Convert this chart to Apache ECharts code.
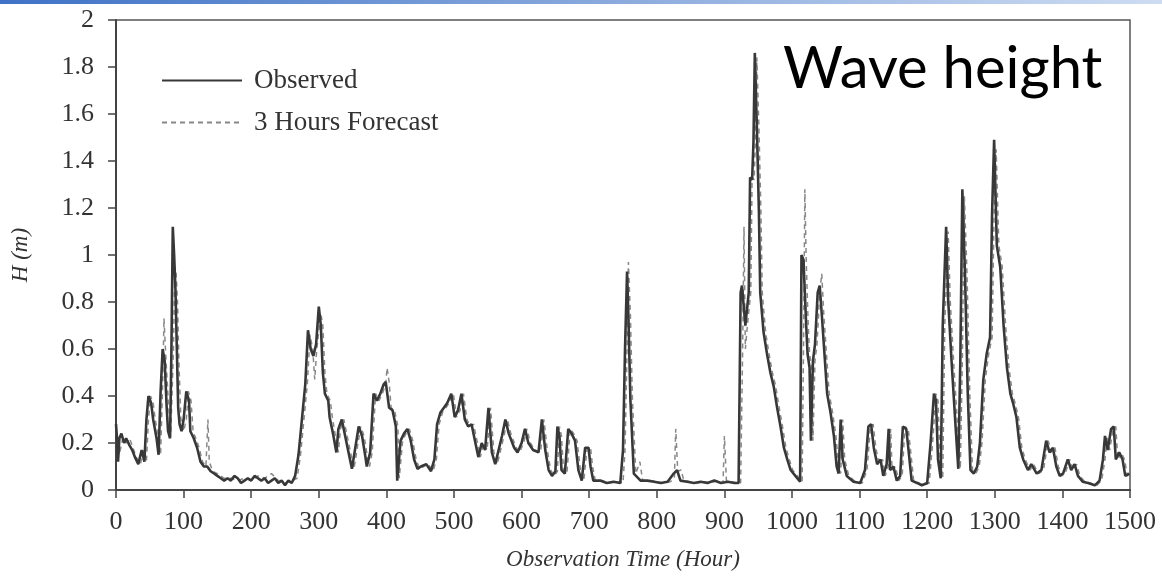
<!DOCTYPE html>
<html>
<head>
<meta charset="utf-8">
<script src="https://cdn.jsdelivr.net/npm/echarts@6/dist/echarts.min.js"></script>
<style>
html, body { margin: 0; padding: 0; background: #fff; }
#main { width: 1162px; height: 580px; }
</style>
</head>
<body>
<div id="main"></div>
<script>
// observed wave height (hour, metres)
var obsHours = [0,2,3,5,8,12,15,20,24,28,33,38,42,45,48,52,55,60,63,66,69,72,75,77,80,82,84,86,88,90,92,94,97,100,104,108,110,115,120,125,130,135,140,145,150,155,160,165,170,175,180,185,190,195,200,205,210,215,220,225,230,235,240,245,250,255,260,265,270,275,280,284,288,292,296,300,303,306,309,314,316,321,326,329,334,339,344,349,354,359,364,369,371,376,381,386,391,396,399,404,409,414,416,421,426,431,436,441,446,451,459,466,471,475,480,485,490,496,501,506,511,516,521,526,531,536,541,546,551,556,561,566,571,576,581,589,594,600,605,610,617,625,630,632,635,640,645,650,653,656,659,664,669,674,679,684,689,694,699,702,706,716,726,736,746,750,753,756,758,761,766,776,786,796,806,816,825,830,835,845,855,865,875,885,895,905,915,921,924,926,931,936,938,941,943,945,948,951,953,958,963,968,973,978,983,988,993,998,1005,1012,1014,1017,1021,1023,1026,1028,1031,1034,1038,1041,1044,1048,1052,1057,1062,1066,1069,1072,1075,1081,1091,1101,1108,1113,1117,1121,1126,1131,1135,1140,1143,1145,1150,1155,1160,1164,1169,1172,1177,1185,1192,1200,1205,1210,1213,1216,1220,1223,1228,1231,1236,1242,1246,1249,1252,1256,1260,1264,1269,1274,1278,1283,1288,1293,1296,1299,1303,1308,1313,1318,1323,1327,1332,1337,1342,1349,1354,1362,1369,1376,1381,1386,1391,1396,1401,1408,1413,1418,1423,1430,1438,1448,1455,1460,1463,1467,1472,1476,1479,1484,1489,1493,1499];
var obsH = [0.28,0.2,0.12,0.22,0.24,0.2,0.22,0.19,0.17,0.14,0.11,0.17,0.12,0.3,0.4,0.37,0.3,0.22,0.15,0.42,0.6,0.55,0.35,0.25,0.22,0.6,1.12,1.0,0.85,0.6,0.35,0.28,0.25,0.3,0.42,0.38,0.25,0.22,0.18,0.12,0.1,0.1,0.08,0.07,0.06,0.05,0.04,0.05,0.04,0.06,0.05,0.03,0.04,0.05,0.04,0.06,0.05,0.04,0.05,0.03,0.04,0.05,0.03,0.04,0.02,0.04,0.03,0.06,0.15,0.3,0.45,0.68,0.6,0.57,0.62,0.78,0.7,0.5,0.41,0.38,0.31,0.24,0.16,0.26,0.3,0.23,0.16,0.09,0.18,0.27,0.23,0.14,0.1,0.16,0.41,0.38,0.41,0.45,0.46,0.35,0.34,0.27,0.04,0.21,0.24,0.26,0.21,0.13,0.09,0.1,0.11,0.08,0.13,0.28,0.33,0.35,0.37,0.41,0.31,0.34,0.41,0.3,0.27,0.28,0.21,0.14,0.2,0.17,0.35,0.16,0.11,0.17,0.23,0.3,0.24,0.18,0.16,0.2,0.26,0.2,0.17,0.16,0.3,0.3,0.17,0.085,0.06,0.08,0.27,0.23,0.085,0.07,0.26,0.24,0.21,0.085,0.04,0.18,0.18,0.1,0.04,0.04,0.03,0.035,0.03,0.17,0.6,0.93,0.74,0.38,0.07,0.04,0.04,0.035,0.03,0.035,0.07,0.085,0.04,0.035,0.03,0.035,0.03,0.04,0.03,0.035,0.03,0.03,0.84,0.87,0.7,0.84,1.33,1.32,1.48,1.86,1.55,1.19,0.84,0.67,0.58,0.5,0.44,0.35,0.27,0.18,0.13,0.085,0.06,0.035,1.0,0.98,0.7,0.58,0.52,0.21,0.55,0.62,0.84,0.87,0.75,0.58,0.41,0.33,0.23,0.1,0.07,0.3,0.13,0.06,0.035,0.03,0.085,0.27,0.28,0.18,0.11,0.13,0.06,0.11,0.26,0.085,0.1,0.04,0.06,0.27,0.26,0.18,0.04,0.03,0.02,0.03,0.2,0.41,0.38,0.13,0.05,0.7,1.12,0.81,0.55,0.27,0.09,0.55,1.28,0.91,0.41,0.085,0.07,0.1,0.2,0.47,0.58,0.65,1.18,1.49,1.04,0.95,0.7,0.52,0.41,0.37,0.31,0.18,0.13,0.085,0.11,0.07,0.085,0.21,0.16,0.18,0.1,0.06,0.07,0.13,0.085,0.11,0.06,0.035,0.03,0.02,0.04,0.13,0.23,0.17,0.26,0.27,0.13,0.16,0.13,0.06,0.07];

// 3 hours forecast (dashed)
var fcHours = [0,5,10,15,20,25,30,36,41,45,48,51,55,58,63,66,69,71,74,78,81,85,87,89,91,93,96,100,104,107,111,114,118,123,128,133,136,138,143,150,160,170,180,190,200,210,220,230,240,250,260,268,273,278,283,287,291,294,297,303,306,309,312,317,320,324,329,332,337,342,347,352,357,362,367,372,375,379,384,389,394,399,401,404,407,412,417,419,424,429,434,439,444,449,455,462,469,474,478,483,488,493,499,504,509,514,519,524,529,534,539,544,549,554,559,564,569,574,579,584,592,597,603,608,613,620,628,633,635,638,643,648,653,656,659,662,667,672,677,682,687,692,697,702,705,709,720,730,740,750,753,756,758,761,764,769,775,779,790,800,810,820,826,828,831,836,840,850,860,870,880,890,898,900,903,910,920,924,927,929,931,934,939,941,944,946,948,951,954,956,961,966,971,976,981,986,991,996,1001,1008,1015,1017,1019,1021,1024,1026,1029,1031,1034,1037,1041,1044,1047,1051,1055,1060,1065,1069,1072,1075,1078,1084,1094,1104,1111,1116,1120,1124,1129,1134,1138,1143,1146,1148,1153,1158,1163,1167,1172,1175,1180,1188,1195,1203,1208,1213,1216,1219,1223,1226,1231,1234,1239,1245,1249,1252,1255,1259,1263,1267,1272,1277,1281,1286,1291,1296,1299,1302,1306,1311,1316,1321,1326,1330,1335,1340,1345,1352,1357,1365,1372,1379,1384,1389,1394,1399,1404,1411,1416,1421,1426,1433,1441,1451,1458,1463,1466,1470,1475,1479,1482,1487,1492,1496,1500];
var fcH = [0.25,0.15,0.22,0.2,0.22,0.18,0.14,0.11,0.17,0.12,0.3,0.4,0.37,0.3,0.22,0.15,0.45,0.73,0.55,0.35,0.24,0.6,0.95,0.92,0.8,0.55,0.3,0.25,0.3,0.42,0.38,0.25,0.22,0.18,0.12,0.1,0.3,0.12,0.08,0.07,0.05,0.05,0.04,0.05,0.04,0.06,0.05,0.07,0.04,0.03,0.04,0.05,0.15,0.3,0.45,0.66,0.6,0.47,0.6,0.75,0.7,0.5,0.41,0.38,0.31,0.24,0.16,0.26,0.3,0.23,0.16,0.09,0.18,0.27,0.23,0.14,0.1,0.16,0.41,0.38,0.41,0.45,0.52,0.46,0.35,0.34,0.27,0.05,0.21,0.24,0.26,0.21,0.13,0.09,0.1,0.11,0.08,0.13,0.28,0.33,0.35,0.37,0.41,0.31,0.34,0.41,0.3,0.27,0.28,0.21,0.14,0.2,0.17,0.35,0.16,0.11,0.17,0.23,0.3,0.24,0.18,0.16,0.2,0.26,0.2,0.17,0.16,0.3,0.3,0.17,0.085,0.06,0.08,0.27,0.23,0.085,0.07,0.26,0.24,0.21,0.085,0.04,0.18,0.18,0.1,0.04,0.04,0.03,0.035,0.03,0.17,0.6,0.97,0.74,0.38,0.07,0.12,0.04,0.04,0.035,0.03,0.035,0.05,0.26,0.08,0.085,0.04,0.035,0.03,0.035,0.03,0.04,0.03,0.23,0.04,0.035,0.03,0.03,0.6,1.12,0.6,0.7,0.84,1.33,1.32,1.5,1.84,1.55,1.19,0.84,0.67,0.58,0.5,0.44,0.35,0.27,0.18,0.13,0.085,0.06,0.035,0.6,1.28,0.98,0.7,0.58,0.52,0.21,0.55,0.62,0.84,0.92,0.75,0.58,0.41,0.33,0.23,0.1,0.07,0.3,0.13,0.06,0.035,0.03,0.085,0.27,0.28,0.18,0.11,0.13,0.06,0.11,0.26,0.085,0.1,0.04,0.06,0.27,0.26,0.18,0.04,0.03,0.02,0.03,0.2,0.41,0.38,0.13,0.05,0.7,1.1,0.81,0.55,0.27,0.09,0.55,1.25,0.91,0.41,0.085,0.07,0.1,0.2,0.47,0.58,0.65,1.18,1.45,1.04,0.95,0.7,0.52,0.41,0.37,0.31,0.18,0.13,0.085,0.11,0.07,0.085,0.21,0.16,0.18,0.1,0.06,0.07,0.13,0.085,0.11,0.06,0.035,0.03,0.02,0.04,0.13,0.23,0.17,0.26,0.27,0.13,0.16,0.13,0.06,0.07];

var serieNames = ["Observed", "3 Hours Forecast"];
var xName = "Observation Time (Hour)";
var yName = "H (m)";
var noteText = "Wave height";

function pairs(hours, vals) {
	var out = [];
	for (var i = 0; i < hours.length; i++) {
		out.push([hours[i], vals[i]]);
	}
	return out;
}

var serif = "'Liberation Serif', 'DejaVu Serif', serif";
var chart = echarts.init(document.getElementById("main"));

var option = {
	backgroundColor: "#fff",
	animation: false,
	grid: {
		left: 116, right: 32, top: 20, bottom: 90,
		outerBoundsMode: "none",
		containLabel: false,
		show: true, borderColor: "#555", borderWidth: 1.5
	},
	legend: {
		orient: "vertical",
		left: 156, top: 62,
		itemWidth: 80, itemHeight: 28, itemGap: 15,
		data: serieNames,
		itemStyle: { opacity: 0 },
		textStyle: { fontFamily: serif, fontSize: 27, color: "#333", padding: [0, 0, 0, 7] }
	},
	xAxis: {
		type: "value", min: 0, max: 1500, interval: 100,
		name: xName, nameLocation: "middle", nameGap: 58,
		nameTextStyle: { fontFamily: serif, fontStyle: "italic", fontSize: 23, color: "#333" },
		axisLine: { lineStyle: { color: "#444", width: 2 } },
		axisTick: { show: true, length: 8, lineStyle: { color: "#444", width: 1.5 } },
		axisLabel: {
			fontFamily: serif, fontSize: 26, color: "#333", margin: 19,
			formatter: function (v) { return String(v); }
		},
		splitLine: { show: false }
	},
	yAxis: {
		type: "value", min: 0, max: 2, interval: 0.2,
		name: yName, nameLocation: "middle", nameGap: 84, nameRotate: 90,
		nameTextStyle: { fontFamily: serif, fontStyle: "italic", fontSize: 23, color: "#333" },
		axisLine: { show: true, lineStyle: { color: "#444", width: 2 } },
		axisTick: { show: true, length: 8, lineStyle: { color: "#444", width: 1.5 } },
		axisLabel: {
			fontFamily: serif, fontSize: 26, color: "#333", margin: 22,
			formatter: function (v) { return String(Math.round(v * 10) / 10); }
		},
		splitLine: { show: false }
	},
	series: [{
		name: serieNames[1],
		type: "line",
		data: pairs(fcHours, fcH),
		symbol: "none",
		z: 2,
		lineStyle: { color: "#888", width: 1.5, type: [5, 4] },
		itemStyle: { color: "#888" }
	}, {
		name: serieNames[0],
		type: "line",
		data: pairs(obsHours, obsH),
		symbol: "none",
		z: 3,
		lineStyle: { color: "#383838", width: 2.6 },
		itemStyle: { color: "#383838" }
	}],
	graphic: [{
		type: "rect",
		left: 0, top: 0,
		shape: { width: 1162, height: 4 },
		style: {
			fill: new echarts.graphic.LinearGradient(0, 0, 1, 0, [
				{ offset: 0, color: "#3f72c6" },
				{ offset: 1, color: "#cddcf2" }
			])
		}
	}, {
		type: "text",
		left: 783, top: 40,
		z: 10,
		style: { text: noteText, fontFamily: "Lato, 'Open Sans', sans-serif", fontSize: 58, fill: "#000" }
	}]
};

chart.setOption(option);
</script>
</body>
</html>
